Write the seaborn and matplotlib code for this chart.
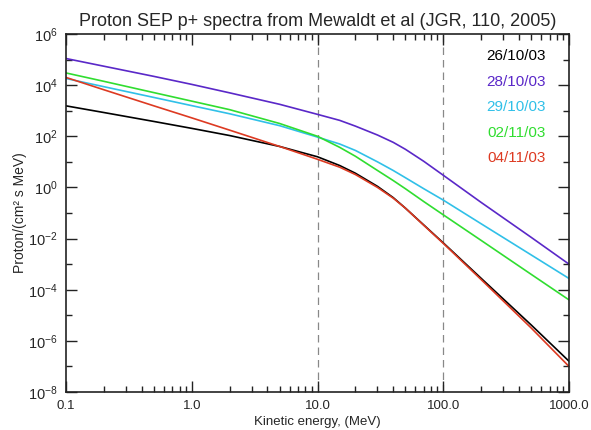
import numpy as np
import pandas as pd
import matplotlib
matplotlib.use("Agg")
import matplotlib.pyplot as plt
import matplotlib.ticker as mticker
import seaborn as sns

energyMeV = [0.1, 0.2, 0.5, 1, 2, 5, 10, 15, 20, 30, 40, 50, 70, 100, 200, 500, 1000]

# Proton flux, protons/(cm2 s MeV) for each event date
flux261003 = [1.55e3, 8.5e2, 3.8e2, 2.04e2, 1.07e2, 40, 15.8, 7.2, 3.6, 1.1, 0.40, 0.155, 0.034, 6.8e-3, 2.8e-4, 4.2e-6, 1.6e-7]
flux281003 = [1.1e5, 5.5e4, 2.2e4, 1.07e4, 5.0e3, 1.78e3, 7.2e2, 4.2e2, 2.5e2, 1.12e2, 58, 31, 10.5, 3.0, 0.26, 1.12e-2, 1.0e-3]
flux291003 = [1.82e4, 8.7e3, 3.3e3, 1.58e3, 7.6e2, 2.6e2, 93, 50, 28, 10, 4.6, 2.4, 0.89, 0.32, 0.038, 2.3e-3, 2.75e-4]
flux021103 = [3.0e4, 1.41e4, 5.1e3, 2.37e3, 1.1e3, 3.16e2, 100, 37, 16.6, 4.6, 1.86, 0.89, 0.28, 0.085, 8.5e-3, 4.0e-4, 4.0e-5]
flux041103 = [2.0e4, 6.6e3, 1.55e3, 5.25e2, 1.74e2, 40, 12.6, 6.2, 3.2, 1.0, 0.38, 0.155, 0.033, 6.5e-3, 2.5e-4, 3.2e-6, 1.0e-7]

eventDates = ['26/10/03', '28/10/03', '29/10/03', '02/11/03', '04/11/03']
eventColors = ['#000000', '#5a28c8', '#30c0e8', '#30dd30', '#dd3a22']

xTickValues = [0.1, 1, 10, 100, 1000]
xTickLabels = ['0.1', '1.0', '10.0', '100.0', '1000.0']
markerEnergies = [10, 100]

# long-form table for seaborn
allFlux = [flux261003, flux281003, flux291003, flux021103, flux041103]
df = pd.concat([
    pd.DataFrame({'energy': energyMeV, 'flux': f, 'date': d})
    for f, d in zip(allFlux, eventDates)
], ignore_index=True)

sns.set_style("ticks")
plt.rcParams['font.family'] = ['Liberation Sans', 'DejaVu Sans']
plt.rcParams['mathtext.fontset'] = 'custom'
plt.rcParams['mathtext.rm'] = 'Liberation Sans'
plt.rcParams['mathtext.it'] = 'Liberation Sans:italic'
plt.rcParams['mathtext.bf'] = 'Liberation Sans:bold'

fig = plt.figure(figsize=(5.91, 4.30), dpi=100)
ax = fig.add_axes([66 / 591, 38 / 430, 503 / 591, 358 / 430])

sns.lineplot(data=df, x='energy', y='flux', hue='date', hue_order=eventDates,
             palette=dict(zip(eventDates, eventColors)), linewidth=1.2,
             legend=False, ax=ax)

for e in markerEnergies:
    ax.axvline(e, color='#888888', linestyle=(0, (6, 4)), linewidth=0.9, zorder=0)

ax.set_xscale('log')
ax.set_yscale('log')
ax.set_xlim(0.1, 1000)
ax.set_ylim(1e-8, 1e6)

ax.xaxis.set_major_locator(mticker.FixedLocator(xTickValues))
ax.xaxis.set_major_formatter(mticker.FixedFormatter(xTickLabels))
ax.xaxis.set_minor_locator(mticker.LogLocator(base=10, subs=np.arange(2, 10)))
ax.xaxis.set_minor_formatter(mticker.NullFormatter())

ax.yaxis.set_major_locator(mticker.LogLocator(base=100))
ax.yaxis.set_major_formatter(mticker.FuncFormatter(
    lambda v, p: r'$\mathregular{10^{%d}}$' % int(round(np.log10(v)))))
ax.yaxis.set_minor_locator(mticker.LogLocator(base=10, subs=(1.0,), numticks=30))
ax.yaxis.set_minor_formatter(mticker.NullFormatter())

ax.tick_params(which='both', direction='in', top=True, right=True, color='#222222')
ax.tick_params(which='major', length=8, width=1.0, pad=6)
ax.tick_params(axis='x', which='major', labelsize=9.5)
ax.tick_params(axis='y', which='major', labelsize=10.5)
ax.tick_params(which='minor', length=4, width=1.0)
for s in ax.spines.values():
    s.set_linewidth(1.2)
    s.set_color('#222222')

ax.set_title('Proton SEP p+ spectra from Mewaldt et al (JGR, 110, 2005)', fontsize=13, pad=6)
ax.set_xlabel('Kinetic energy, (MeV)', fontsize=9.5, labelpad=3)
ax.set_ylabel('Proton/(cm² s MeV)', fontsize=10, labelpad=1)

# legend as coloured labels down the right side
for i, (d, c) in enumerate(zip(eventDates, eventColors)):
    ax.text(0.954, 0.9385 - i * 0.0715, d, color=c, fontsize=11,
            ha='right', va='center', transform=ax.transAxes)

fig.savefig('out.png', dpi=100)
